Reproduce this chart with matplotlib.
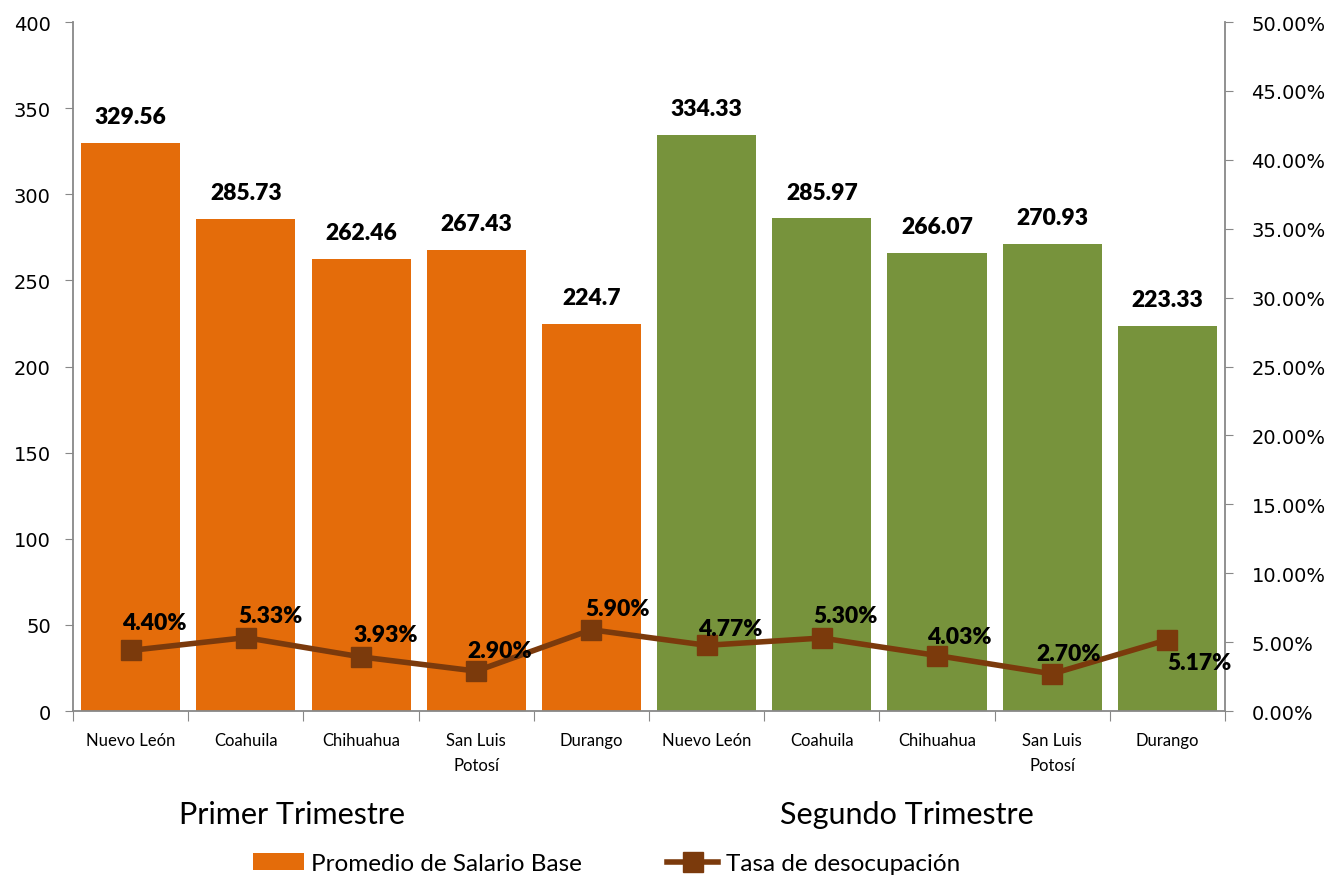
import matplotlib
matplotlib.use("Agg")
import matplotlib.pyplot as plt
import numpy as np
from matplotlib.lines import Line2D
from matplotlib.patches import Patch

categories = ["Nuevo León", "Coahuila", "Chihuahua", "San Luis\nPotosí", "Durango",
              "Nuevo León", "Coahuila", "Chihuahua", "San Luis\nPotosí", "Durango"]
salario = [329.56, 285.73, 262.46, 267.43, 224.7, 334.33, 285.97, 266.07, 270.93, 223.33]
salario_labels = ["329.56", "285.73", "262.46", "267.43", "224.7",
                  "334.33", "285.97", "266.07", "270.93", "223.33"]
tasa = [4.40, 5.33, 3.93, 2.90, 5.90, 4.77, 5.30, 4.03, 2.70, 5.17]
groups = ["Primer Trimestre", "Segundo Trimestre"]
left_ticks = [0, 50, 100, 150, 200, 250, 300, 350, 400]
right_ticks = [0, 5, 10, 15, 20, 25, 30, 35, 40, 45, 50]

orange = "#E46C0A"
green = "#77933C"
brown = "#7B3A0C"
spine_c = "#888888"

fig = plt.figure(figsize=(13.33, 8.78), dpi=100)
ax = fig.add_axes([0.0548, 0.189, 0.919 - 0.0548, 0.9738 - 0.189])
x = np.arange(len(categories))
colors = [orange] * 5 + [green] * 5
ax.bar(x, salario, width=0.86, color=colors, zorder=2)
ax.set_xlim(-0.5, 9.5)
ax.set_ylim(0, 400)
ax.set_yticks(left_ticks)
ax.set_yticklabels([str(t) for t in left_ticks], fontsize=14, family="DejaVu Sans")

for xi, v, lab in zip(x, salario, salario_labels):
    ax.annotate(lab, (xi, v), xytext=(0, 19), textcoords="offset points",
                ha="center", va="center", fontsize=16.5, fontweight="heavy",
                family="Lato", color="black")

# x ticks: boundaries as major ticks, labels at centers
ax.set_xticks(np.arange(-0.5, 10, 1))
ax.set_xticklabels([])
ax.set_xticks(x, minor=True)
ax.set_xticklabels(categories, minor=True, fontsize=12, family="Lato", linespacing=1.7)
ax.tick_params(axis="x", which="minor", length=0, pad=15)
ax.tick_params(axis="x", which="major", length=7, color=spine_c, direction="out")
ax.tick_params(axis="y", length=6, color=spine_c, direction="out", pad=10)

for s in ["top", "right"]:
    ax.spines[s].set_visible(False)
for s in ["left", "bottom"]:
    ax.spines[s].set_color(spine_c)
    ax.spines[s].set_linewidth(1.3)

ax2 = ax.twinx()
ax2.set_ylim(0, 50)
ax2.set_yticks(right_ticks)
ax2.set_yticklabels([f"{t:.2f}%" for t in right_ticks], fontsize=14, family="DejaVu Sans")
ax2.tick_params(axis="y", length=6, color=spine_c, direction="out", pad=13)
for s in ["top", "left", "bottom"]:
    ax2.spines[s].set_visible(False)
ax2.spines["right"].set_color(spine_c)
ax2.spines["right"].set_linewidth(1.3)

ax2.plot(x, tasa, color=brown, linewidth=4, marker="s", markersize=15, zorder=3)
offsets = [(17, 20), (18, 16), (18, 16), (17, 15), (19, 15),
           (17, 12), (17, 16), (16, 14), (12, 15), (23, -16)]
for xi, v, off in zip(x, tasa, offsets):
    ax2.annotate(f"{v:.2f}%", (xi, v), xytext=off, textcoords="offset points",
                 ha="center", va="center", fontsize=16.5, fontweight="heavy",
                 family="Lato", color="black")

# group labels
trans = ax.get_xaxis_transform()
ax.text(1.40, -0.149, groups[0], transform=trans, ha="center", va="center",
        fontsize=22, family="Lato")
ax.text(6.74, -0.149, groups[1], transform=trans, ha="center", va="center",
        fontsize=22, family="Lato")

handles = [Patch(facecolor=orange, edgecolor="none"),
           Line2D([0], [0], color=brown, linewidth=4, marker="s", markersize=15)]
fig.legend(handles, ["Promedio de Salario Base", "Tasa de desocupación"],
           loc="lower center", bbox_to_anchor=(0.455, -0.022), ncol=2, frameon=False,
           prop={"family": "Lato", "size": 17.5}, columnspacing=3.5,
           handlelength=2.1, handletextpad=0.3)

fig.savefig("out.png", dpi=100)
